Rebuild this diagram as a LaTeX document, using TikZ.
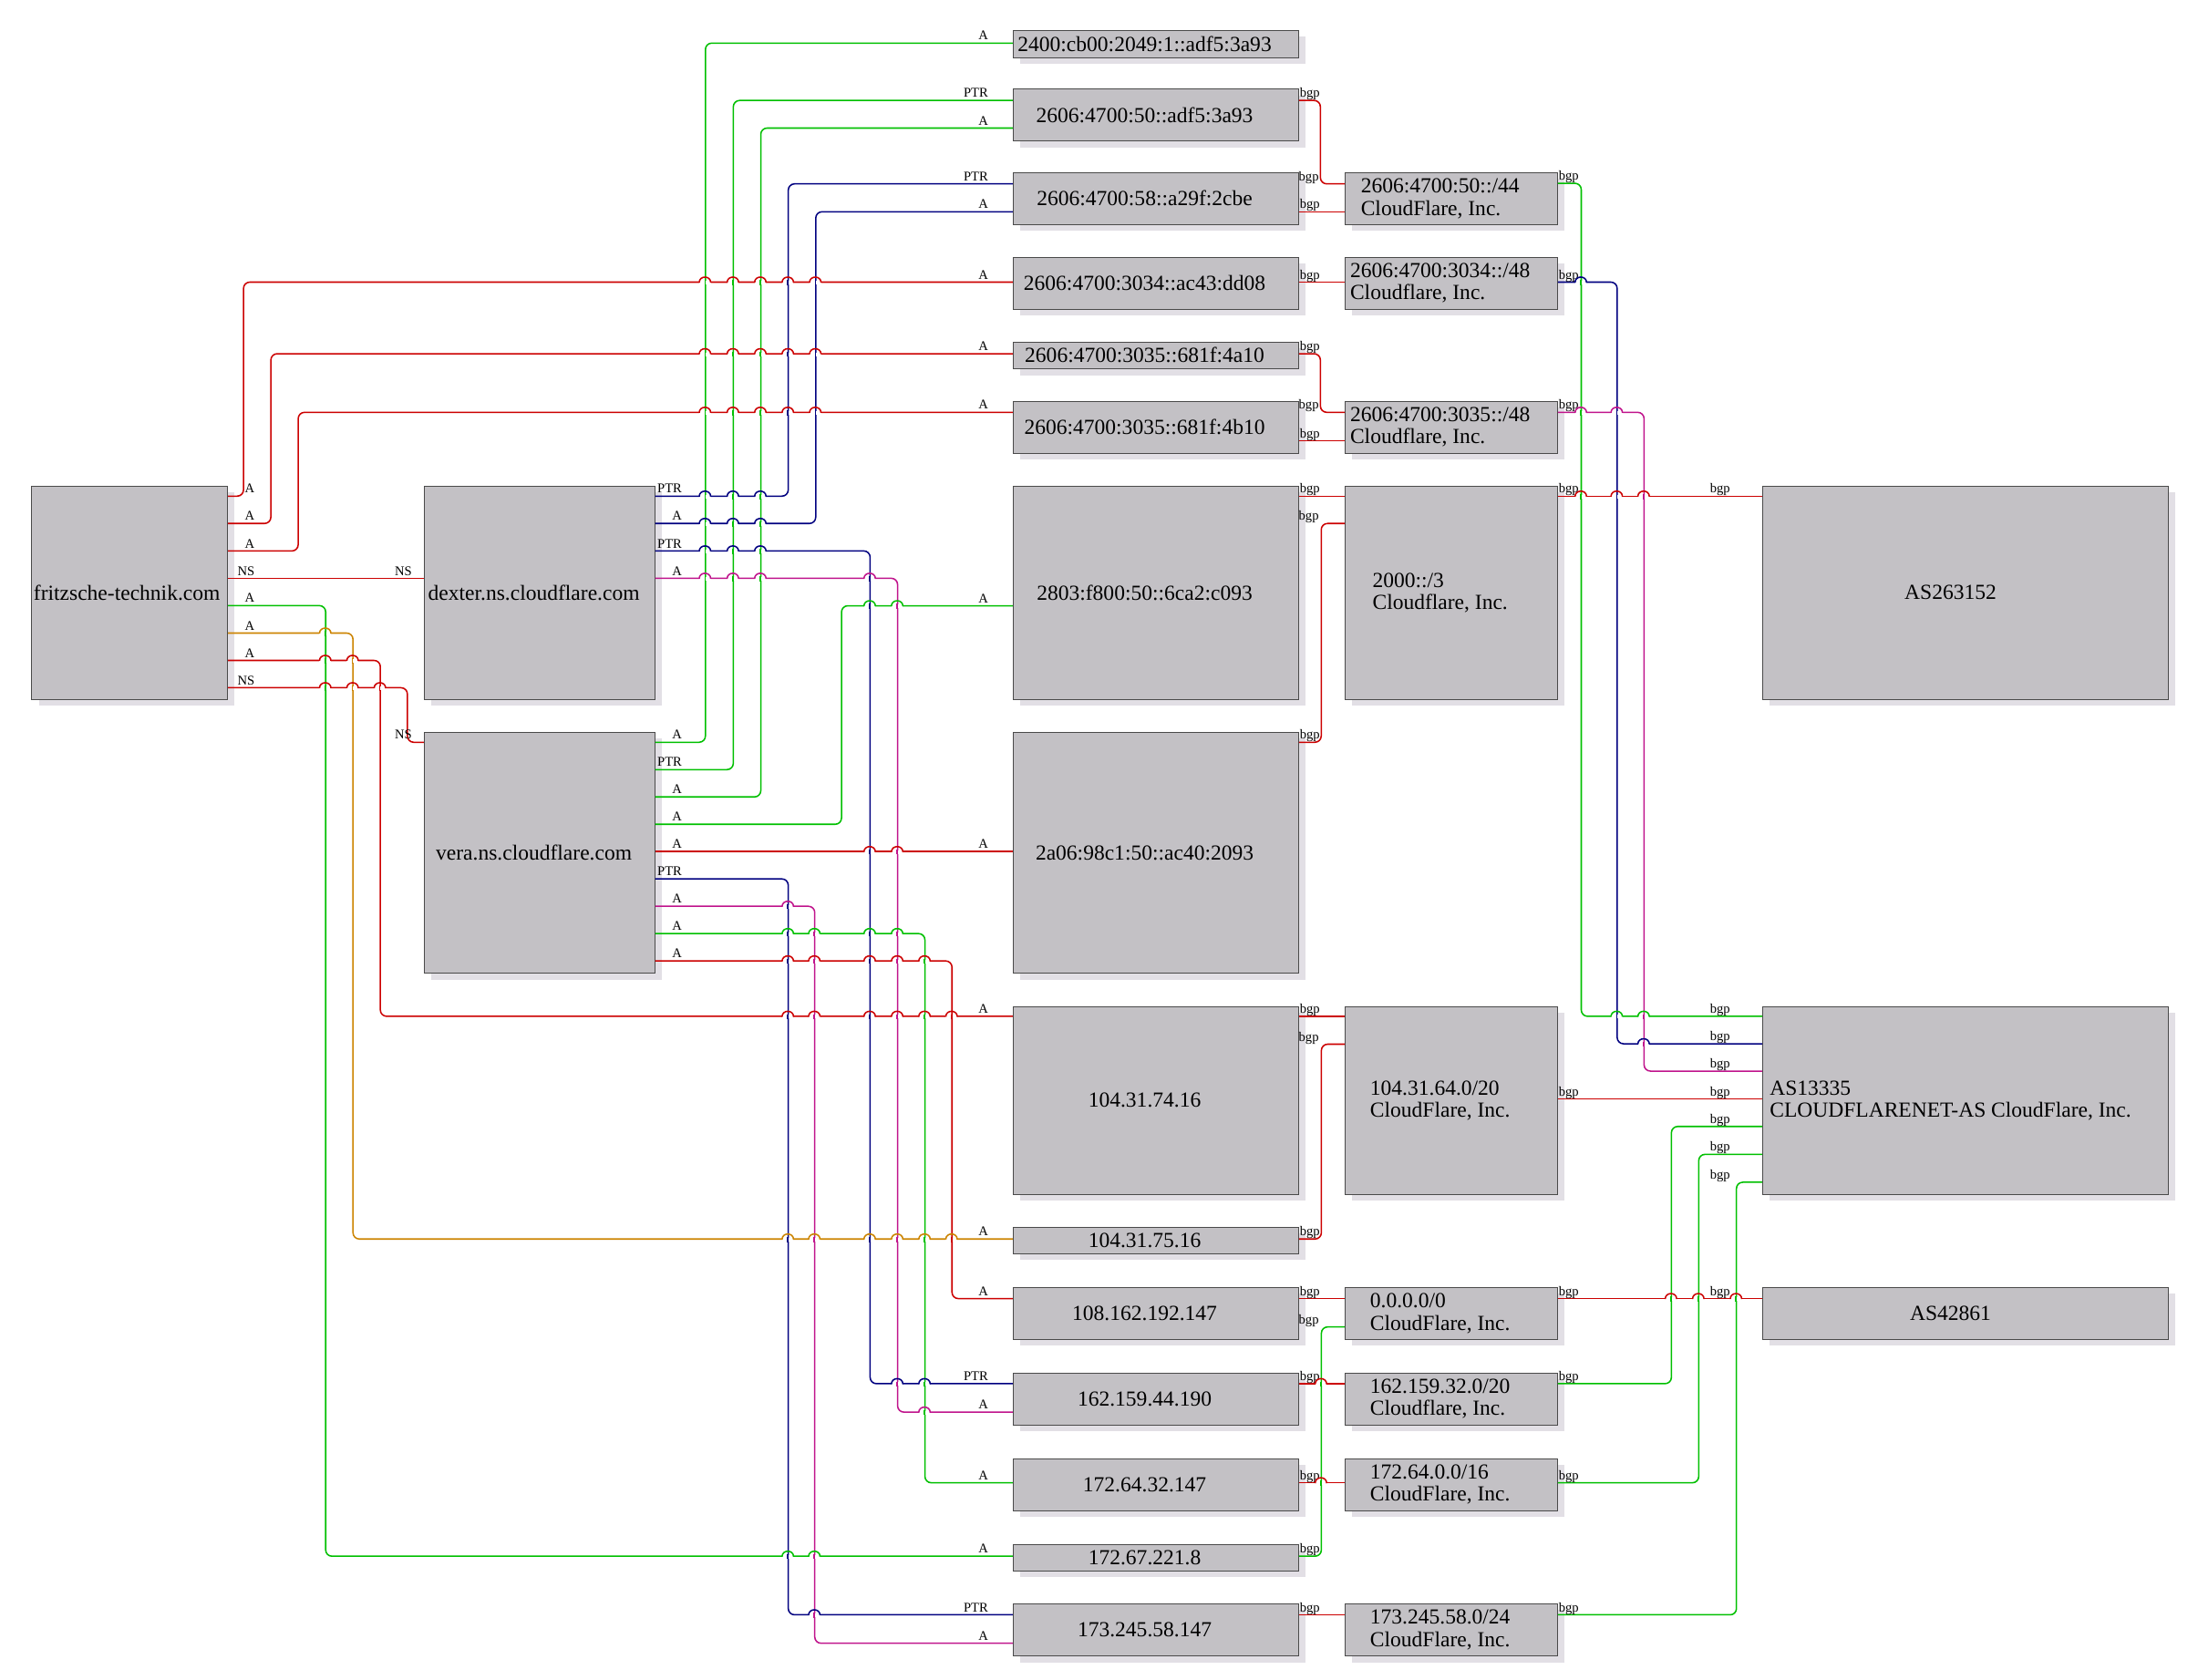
\documentclass[tikz,border=0pt]{standalone}
\usepackage{fontspec}
\setmainfont{Liberation Serif}
\usetikzlibrary{shadows}

\definecolor{ered}{HTML}{CC0000}
\definecolor{egreen}{HTML}{00C000}
\definecolor{eblue}{HTML}{000080}
\definecolor{emag}{HTML}{C0148C}
\definecolor{eorange}{HTML}{CC8400}
\definecolor{boxfill}{HTML}{C3C1C5}
\definecolor{boxline}{HTML}{4A4A4A}
\definecolor{boxshade}{HTML}{E2DFE5}

\tikzset{
  box/.style={draw=boxline, line width=0.65pt, fill=boxfill, inner sep=0pt,
    drop shadow={shadow xshift=5pt, shadow yshift=-4.5pt, fill=boxshade, opacity=1}},
  ipbox/.style={box, minimum width=203.7pt},
  pfbox/.style={box, minimum width=151.5pt},
  asbox/.style={box, minimum width=289.3pt},
  txt/.style={font=\fontsize{15.3}{15.8}\selectfont, align=left, inner sep=0pt},
  eline/.style={line width=1pt, rounded corners=4.5pt},
  lbl/.style={font=\fontsize{9.5}{10}\selectfont, text=black, inner sep=0pt, anchor=base east, yshift=2.2pt},
  tl/.style={lbl, xshift=19.5pt},
  hl/.style={lbl, xshift=-17pt},
  nsl/.style={lbl, xshift=-8pt},
  btl/.style={lbl, xshift=15.3pt},
  bhl/.style={lbl, xshift=-18pt},
  ahl/.style={lbl, xshift=-22.5pt}
}

% line hop: x, y, colour of the horizontal line, colour of the vertical line
\newcommand\edgehop[4]{%
  \draw[white, line width=2.6pt] (#1-4.1,#2) -- (#1+4.1,#2);
  \draw[color=#4, line width=1pt] (#1,#2-1.8) -- (#1,#2+1.8);
  \draw[color=#3, line width=1pt] (#1-4.1,#2) .. controls (#1-4.1,#2-5.2) and (#1+4.1,#2-5.2) .. (#1+4.1,#2);
}
\newcommand\hoprow[3]{\foreach \hx/\vc in {#3}{\edgehop{\hx}{#1}{#2}{\vc}}}

\begin{document}
\begin{tikzpicture}[x=1pt,y=-1pt]
\path[use as bounding box, fill=white] (0,0) rectangle (1568,1198);

% domain and name servers
\node[box, minimum width=139.6pt, minimum height=152.1pt] (fr) at (92.5,422.85) {};
\node[box, minimum width=164.5pt, minimum height=152.1pt] (dx) at (384.85,422.85) {};
\node[box, minimum width=164.5pt, minimum height=171.7pt] (ve) at (384.85,608.45) {};
\node[txt] (fr-t) at ([xshift=-2pt]fr.center) {fritzsche-technik.com};
\node[txt] (dx-t) at ([xshift=-4pt]dx.center) {dexter.ns.cloudflare.com};
\node[txt] (ve-t) at ([xshift=-4pt]ve.center) {vera.ns.cloudflare.com};

% addresses
\node[ipbox, minimum height=19.5pt] (ip1) at (824.55,31.35) {};
\node[ipbox, minimum height=37.2pt] (ip2) at (824.55,82.1) {};
\node[ipbox, minimum height=37.2pt] (ip3) at (824.55,141.7) {};
\node[ipbox, minimum height=37.2pt] (ip4) at (824.55,202.1) {};
\node[ipbox, minimum height=19.3pt] (ip5) at (824.55,253.55) {};
\node[ipbox, minimum height=37.1pt] (ip6) at (824.55,304.75) {};
\node[ipbox, minimum height=152.1pt] (ip7) at (824.55,422.85) {};
\node[ipbox, minimum height=171.7pt] (ip8) at (824.55,608.45) {};
\node[ipbox, minimum height=134pt] (ip9) at (824.55,785.1) {};
\node[ipbox, minimum height=18.9pt] (ip10) at (824.55,885.15) {};
\node[ipbox, minimum height=37.2pt] (ip11) at (824.55,937.1) {};
\node[ipbox, minimum height=37.2pt] (ip12) at (824.55,998.1) {};
\node[ipbox, minimum height=37.2pt] (ip13) at (824.55,1059.2) {};
\node[ipbox, minimum height=19.2pt] (ip14) at (824.55,1111.3) {};
\node[ipbox, minimum height=37.5pt] (ip15) at (824.55,1162.85) {};
\node[txt] (ip1-t) at ([xshift=-8pt]ip1.center) {2400:cb00:2049:1::adf5:3a93};
\node[txt] (ip2-t) at ([xshift=-8pt]ip2.center) {2606:4700:50::adf5:3a93};
\node[txt] (ip3-t) at ([xshift=-8pt]ip3.center) {2606:4700:58::a29f:2cbe};
\node[txt] (ip4-t) at ([xshift=-8pt]ip4.center) {2606:4700:3034::ac43:dd08};
\node[txt] (ip5-t) at ([xshift=-8pt]ip5.center) {2606:4700:3035::681f:4a10};
\node[txt] (ip6-t) at ([xshift=-8pt]ip6.center) {2606:4700:3035::681f:4b10};
\node[txt] (ip7-t) at ([xshift=-8pt]ip7.center) {2803:f800:50::6ca2:c093};
\node[txt] (ip8-t) at ([xshift=-8pt]ip8.center) {2a06:98c1:50::ac40:2093};
\node[txt] (ip9-t) at ([xshift=-8pt]ip9.center) {104.31.74.16};
\node[txt] (ip10-t) at ([xshift=-8pt]ip10.center) {104.31.75.16};
\node[txt] (ip11-t) at ([xshift=-8pt]ip11.center) {108.162.192.147};
\node[txt] (ip12-t) at ([xshift=-8pt]ip12.center) {162.159.44.190};
\node[txt] (ip13-t) at ([xshift=-8pt]ip13.center) {172.64.32.147};
\node[txt] (ip14-t) at ([xshift=-8pt]ip14.center) {172.67.221.8};
\node[txt] (ip15-t) at ([xshift=-8pt]ip15.center) {173.245.58.147};

% prefixes
\node[pfbox, minimum height=37.2pt] (pf1) at (1035.35,141.7) {};
\node[pfbox, minimum height=37.2pt] (pf2) at (1035.35,202.1) {};
\node[pfbox, minimum height=37.1pt] (pf3) at (1035.35,304.75) {};
\node[pfbox, minimum height=152.1pt] (pf4) at (1035.35,422.85) {};
\node[pfbox, minimum height=134pt] (pf5) at (1035.35,785.1) {};
\node[pfbox, minimum height=37.2pt] (pf6) at (1035.35,937.1) {};
\node[pfbox, minimum height=37.2pt] (pf7) at (1035.35,998.1) {};
\node[pfbox, minimum height=37.2pt] (pf8) at (1035.35,1059.2) {};
\node[pfbox, minimum height=37.5pt] (pf9) at (1035.35,1162.85) {};
\node[txt] (pf1-t) at ([xshift=-8pt]pf1.center) {2606:4700:50::/44\\CloudFlare, Inc.};
\node[txt] (pf2-t) at ([xshift=-8pt]pf2.center) {2606:4700:3034::/48\\Cloudflare, Inc.};
\node[txt] (pf3-t) at ([xshift=-8pt]pf3.center) {2606:4700:3035::/48\\Cloudflare, Inc.};
\node[txt] (pf4-t) at ([xshift=-8pt]pf4.center) {2000::/3\\Cloudflare, Inc.};
\node[txt] (pf5-t) at ([xshift=-8pt]pf5.center) {104.31.64.0/20\\CloudFlare, Inc.};
\node[txt] (pf6-t) at ([xshift=-8pt]pf6.center) {0.0.0.0/0\\CloudFlare, Inc.};
\node[txt] (pf7-t) at ([xshift=-8pt]pf7.center) {162.159.32.0/20\\Cloudflare, Inc.};
\node[txt] (pf8-t) at ([xshift=-8pt]pf8.center) {172.64.0.0/16\\CloudFlare, Inc.};
\node[txt] (pf9-t) at ([xshift=-8pt]pf9.center) {173.245.58.0/24\\CloudFlare, Inc.};

% autonomous systems
\node[asbox, minimum height=152.1pt] (as1) at (1402.15,422.85) {};
\node[asbox, minimum height=134pt] (as2) at (1402.15,785.1) {};
\node[asbox, minimum height=37.2pt] (as3) at (1402.15,937.1) {};
\node[txt] (as1-t) at ([xshift=-10.7pt]as1.center) {AS263152};
\node[txt] (as2-t) at ([xshift=-10.7pt]as2.center) {AS13335\\CLOUDFLARENET-AS CloudFlare, Inc.};
\node[txt] (as3-t) at ([xshift=-10.7pt]as3.center) {AS42861};

% fritzsche-technik.com
\draw[eline, ered] ([yshift=-7.5pt]fr.north east) node[tl]{A} -- ++(11.1,0) |- ([yshift=-18.1pt]ip4.north west) node[hl, pos=1]{A};
\draw[eline, ered] ([yshift=-27pt]fr.north east) node[tl]{A} -- ++(30.6,0) |- ([yshift=-8.8pt]ip5.north west) node[hl, pos=1]{A};
\draw[eline, ered] ([yshift=-46.6pt]fr.north east) node[tl]{A} -- ++(50.1,0) |- ([yshift=-8.3pt]ip6.north west) node[hl, pos=1]{A};
\draw[eline, ered] ([yshift=-66.1pt]fr.north east) node[tl]{NS} -- ([yshift=-66.1pt]dx.north west) node[nsl, pos=1]{NS};
\draw[eline, egreen] ([yshift=-85.6pt]fr.north east) node[tl]{A} -- ++(69.7,0) |- ([yshift=-8.9pt]ip14.north west) node[hl, pos=1]{A};
\draw[eline, eorange] ([yshift=-105.2pt]fr.north east) node[tl]{A} -- ++(89.2,0) |- ([yshift=-8.6pt]ip10.north west) node[hl, pos=1]{A};
\draw[eline, ered] ([yshift=-124.7pt]fr.north east) node[tl]{A} -- ++(108.7,0) |- ([yshift=-7.3pt]ip9.north west) node[hl, pos=1]{A};
\draw[eline, ered] ([yshift=-144.2pt]fr.north east) node[tl]{NS} -- ++(128,0) |- ([yshift=-7.3pt]ve.north west) node[nsl, pos=1]{NS};

% dexter
\draw[eline, eblue] ([yshift=-7.5pt]dx.north east) node[tl]{PTR} -- ++(94.9,0) |- ([yshift=-8.4pt]ip3.north west) node[hl, pos=1]{PTR};
\draw[eline, eblue] ([yshift=-27pt]dx.north east) node[tl]{A} -- ++(114.5,0) |- ([yshift=-28.3pt]ip3.north west) node[hl, pos=1]{A};
\draw[eline, eblue] ([yshift=-46.6pt]dx.north east) node[tl]{PTR} -- ++(153.3,0) |- ([yshift=-8pt]ip12.north west) node[hl, pos=1]{PTR};
\draw[eline, emag] ([yshift=-66.1pt]dx.north east) node[tl]{A} -- ++(172.9,0) |- ([yshift=-28.3pt]ip12.north west) node[hl, pos=1]{A};

% vera
\draw[eline, egreen] ([yshift=-7.3pt]ve.north east) node[tl]{A} -- ++(35.8,0) |- ([yshift=-9.5pt]ip1.north west) node[hl, pos=1]{A};
\draw[eline, egreen] ([yshift=-26.8pt]ve.north east) node[tl]{PTR} -- ++(55.7,0) |- ([yshift=-8.5pt]ip2.north west) node[hl, pos=1]{PTR};
\draw[eline, egreen] ([yshift=-46.3pt]ve.north east) node[tl]{A} -- ++(75.3,0) |- ([yshift=-28.2pt]ip2.north west) node[hl, pos=1]{A};
\draw[eline, egreen] ([yshift=-65.8pt]ve.north east) node[tl]{A} -- ++(132.9,0) |- ([yshift=-85.7pt]ip7.north west) node[hl, pos=1]{A};
\draw[eline, ered] ([yshift=-85.3pt]ve.north east) node[tl]{A} -- ([yshift=-85.3pt]ip8.north west) node[hl, pos=1]{A};
\draw[eline, eblue] ([yshift=-104.8pt]ve.north east) node[tl]{PTR} -- ++(94.9,0) |- ([yshift=-8.3pt]ip15.north west) node[hl, pos=1]{PTR};
\draw[eline, emag] ([yshift=-124.3pt]ve.north east) node[tl]{A} -- ++(113.8,0) |- ([yshift=-28.6pt]ip15.north west) node[hl, pos=1]{A};
\draw[eline, egreen] ([yshift=-143.8pt]ve.north east) node[tl]{A} -- ++(192.4,0) |- ([yshift=-17.6pt]ip13.north west) node[hl, pos=1]{A};
\draw[eline, ered] ([yshift=-163.3pt]ve.north east) node[tl]{A} -- ++(211.7,0) |- ([yshift=-8.3pt]ip11.north west) node[hl, pos=1]{A};

% addresses to prefixes (on the short straight ones both labels fall on one spot)
\draw[eline, ered] ([yshift=-8.5pt]ip2.north east) node[btl]{bgp} -- ++(15.2,0) |- ([yshift=-8.4pt]pf1.north west) node[bhl, pos=1]{bgp};
\draw[eline, ered] ([yshift=-28.3pt]ip3.north east) node[btl]{bgp} -- ([yshift=-28.3pt]pf1.north west);
\draw[eline, ered] ([yshift=-18.1pt]ip4.north east) node[btl]{bgp} -- ([yshift=-18.1pt]pf2.north west);
\draw[eline, ered] ([yshift=-8.8pt]ip5.north east) node[btl]{bgp} -- ++(15.2,0) |- ([yshift=-8.3pt]pf3.north west) node[bhl, pos=1]{bgp};
\draw[eline, ered] ([yshift=-28.5pt]ip6.north east) node[btl]{bgp} -- ([yshift=-28.5pt]pf3.north west);
\draw[eline, ered] ([yshift=-7.5pt]ip7.north east) node[btl]{bgp} -- ([yshift=-7.5pt]pf4.north west);
\draw[eline, ered] ([yshift=-7.3pt]ip8.north east) node[btl]{bgp} -- ++(15.8,0) |- ([yshift=-27pt]pf4.north west) node[bhl, pos=1]{bgp};
\draw[eline, ered] ([yshift=-7.3pt]ip9.north east) node[btl]{bgp} -- ([yshift=-7.3pt]pf5.north west);
\draw[eline, ered] ([yshift=-8.6pt]ip10.north east) node[btl]{bgp} -- ++(15.9,0) |- ([yshift=-27.2pt]pf5.north west) node[bhl, pos=1]{bgp};
\draw[eline, ered] ([yshift=-8.3pt]ip11.north east) node[btl]{bgp} -- ([yshift=-8.3pt]pf6.north west);
\draw[eline, egreen] ([yshift=-8.9pt]ip14.north east) node[btl]{bgp} -- ++(15.9,0) |- ([yshift=-28.5pt]pf6.north west) node[bhl, pos=1]{bgp};
\draw[eline, ered] ([yshift=-8pt]ip12.north east) node[btl]{bgp} -- ([yshift=-8pt]pf7.north west);
\draw[eline, ered] ([yshift=-17.6pt]ip13.north east) node[btl]{bgp} -- ([yshift=-17.6pt]pf8.north west);
\draw[eline, ered] ([yshift=-8.3pt]ip15.north east) node[btl]{bgp} -- ([yshift=-8.3pt]pf9.north west);

% prefixes to AS
\draw[eline, egreen] ([yshift=-8pt]pf1.north east) node[btl]{bgp} -- ++(16.6,0) |- ([yshift=-7.3pt]as2.north west) node[ahl, pos=1]{bgp};
\draw[eline, eblue] ([yshift=-18.1pt]pf2.north east) node[btl]{bgp} -- ++(42.2,0) |- ([yshift=-26.9pt]as2.north west) node[ahl, pos=1]{bgp};
\draw[eline, emag] ([yshift=-8.3pt]pf3.north east) node[btl]{bgp} -- ++(61.4,0) |- ([yshift=-46.4pt]as2.north west) node[ahl, pos=1]{bgp};
\draw[eline, ered] ([yshift=-7.5pt]pf4.north east) node[btl]{bgp} -- ([yshift=-7.5pt]as1.north west) node[ahl, pos=1]{bgp};
\draw[eline, ered] ([yshift=-66.3pt]pf5.north east) node[btl]{bgp} -- ([yshift=-66.3pt]as2.north west) node[ahl, pos=1]{bgp};
\draw[eline, ered] ([yshift=-8.3pt]pf6.north east) node[btl]{bgp} -- ([yshift=-8.3pt]as3.north west) node[ahl, pos=1]{bgp};
\draw[eline, egreen] ([yshift=-8pt]pf7.north east) node[btl]{bgp} -- ++(80.9,0) |- ([yshift=-85.9pt]as2.north west) node[ahl, pos=1]{bgp};
\draw[eline, egreen] ([yshift=-17.6pt]pf8.north east) node[btl]{bgp} -- ++(100.4,0) |- ([yshift=-105.8pt]as2.north west) node[ahl, pos=1]{bgp};
\draw[eline, egreen] ([yshift=-8.3pt]pf9.north east) node[btl]{bgp} -- ++(127.3,0) |- ([yshift=-125.7pt]as2.north west) node[ahl, pos=1]{bgp};

% hops where lines cross
\hoprow{201.6}{ered}{502.9/egreen,522.8/egreen,542.4/egreen,562/eblue,581.6/eblue}
\hoprow{252.7}{ered}{502.9/egreen,522.8/egreen,542.4/egreen,562/eblue,581.6/eblue}
\hoprow{294.5}{ered}{502.9/egreen,522.8/egreen,542.4/egreen,562/eblue,581.6/eblue}
\hoprow{354.3}{eblue}{502.9/egreen,522.8/egreen,542.4/egreen}
\hoprow{373.8}{eblue}{502.9/egreen,522.8/egreen,542.4/egreen}
\hoprow{393.4}{eblue}{502.9/egreen,522.8/egreen,542.4/egreen}
\hoprow{412.9}{emag}{502.9/egreen,522.8/egreen,542.4/egreen,620.4/eblue}
\hoprow{432.5}{egreen}{620.4/eblue,640/emag}
\hoprow{452}{eorange}{232/egreen}
\hoprow{471.5}{ered}{232/egreen,251.5/eorange}
\hoprow{491}{ered}{232/egreen,251.5/eorange,271/ered}
\hoprow{607.9}{ered}{620.4/eblue,640/emag}
\hoprow{646.9}{emag}{562/eblue}
\hoprow{666.4}{egreen}{562/eblue,580.9/emag,620.4/eblue,640/emag}
\hoprow{685.9}{ered}{562/eblue,580.9/emag,620.4/eblue,640/emag,659.5/egreen}
\hoprow{725.4}{ered}{562/eblue,580.9/emag,620.4/eblue,640/emag,659.5/egreen,678.8/ered}
\hoprow{884.3}{eorange}{562/eblue,580.9/emag,620.4/eblue,640/emag,659.5/egreen,678.8/ered}
\hoprow{987.5}{eblue}{640/emag,659.5/egreen}
\hoprow{1007.8}{emag}{659.5/egreen}
\hoprow{1110.6}{egreen}{562/eblue,580.9/emag}
\hoprow{1152.4}{eblue}{580.9/emag}
\hoprow{987.5}{ered}{942.3/egreen}
\hoprow{1058.2}{ered}{942.3/egreen}
\hoprow{201.6}{eblue}{1127.7/egreen}
\hoprow{294.5}{emag}{1127.7/egreen,1153.3/eblue}
\hoprow{354.3}{ered}{1127.7/egreen,1153.3/eblue,1172.5/emag}
\hoprow{725.4}{egreen}{1153.3/eblue,1172.5/emag}
\hoprow{745}{eblue}{1172.5/emag}
\hoprow{926.8}{ered}{1192/egreen,1211.5/egreen,1238.4/egreen}
\end{tikzpicture}
\end{document}
